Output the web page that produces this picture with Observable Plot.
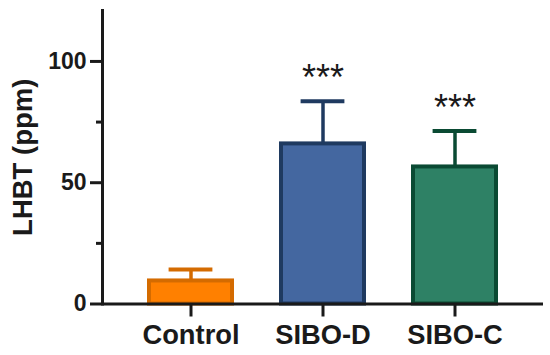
<!DOCTYPE html>
<html><head><meta charset="utf-8">
<script src="https://cdn.jsdelivr.net/npm/d3@7"></script>
<script src="https://cdn.jsdelivr.net/npm/@observablehq/plot@0.6"></script>
<style>body{margin:0;background:#fff}</style>
</head><body><div id="chart"></div>
<script>
const groups = ["Control", "SIBO-D", "SIBO-C"];
const means = [9.5, 66, 56.5];
const sds = [4.7, 17.6, 14.8];
const stars = ["", "***", "***"];
const fills = ["#FF8000", "#4467A0", "#2E8165"];
const strokes = ["#D46B00", "#1F3A60", "#0A4A33"];
const yTicks = [0, 50, 100];
const yMinorTicks = [25, 75];
const yLabel = "LHBT (ppm)";

const data = groups.map((g, i) => ({
  group: g, mean: means[i], top: means[i] + sds[i], star: stars[i],
  fill: fills[i], stroke: strokes[i]
}));

const ink = "#1a1a1a";
const chart = Plot.plot({
  width: 550, height: 355,
  marginLeft: 102, marginRight: 7, marginTop: 10, marginBottom: 51.5,
  style: {fontFamily: "'Liberation Sans', Arial, sans-serif", background: "#fff", color: ink},
  x: {domain: groups, padding: 0.34, label: null},
  y: {domain: [0, 121], label: null},
  marks: [
    Plot.barY(data, {x: "group", y: "mean", fill: "fill", stroke: "stroke", strokeWidth: 4, insetLeft: 2, insetRight: 2}),
    Plot.ruleX(data, {x: "group", y1: "mean", y2: "top", stroke: "stroke", strokeWidth: 3.5}),
    Plot.tickY(data, {x: "group", y: "top", stroke: "stroke", strokeWidth: 4, insetLeft: 21.6, insetRight: 21.6}),
    Plot.text(data, {x: "group", y: "top", text: "star", fontSize: 36, dy: -23, fill: ink}),
    Plot.ruleY([0], {stroke: ink, strokeWidth: 3}),
    Plot.frame({anchor: "left", stroke: ink, strokeWidth: 3}),
    Plot.axisY(yTicks, {tickSize: 12, tickPadding: 4, fontSize: 23, fontWeight: "bold", strokeWidth: 3, stroke: ink, fill: ink, label: null}),
    Plot.axisY(yMinorTicks, {tickSize: 6, tickFormat: () => "", strokeWidth: 3, stroke: ink, label: null}),
    Plot.axisX({tickSize: 13, tickPadding: 8, fontSize: 27.3, fontWeight: "bold", strokeWidth: 3, stroke: ink, fill: ink, label: null}),
    Plot.text([yLabel], {text: d => d, frameAnchor: "left", textAnchor: "middle", rotate: -90, dx: -79, fontSize: 27.5, fontWeight: "bold", fill: ink})
  ]
});
document.getElementById("chart").append(chart);
</script>
</body></html>
